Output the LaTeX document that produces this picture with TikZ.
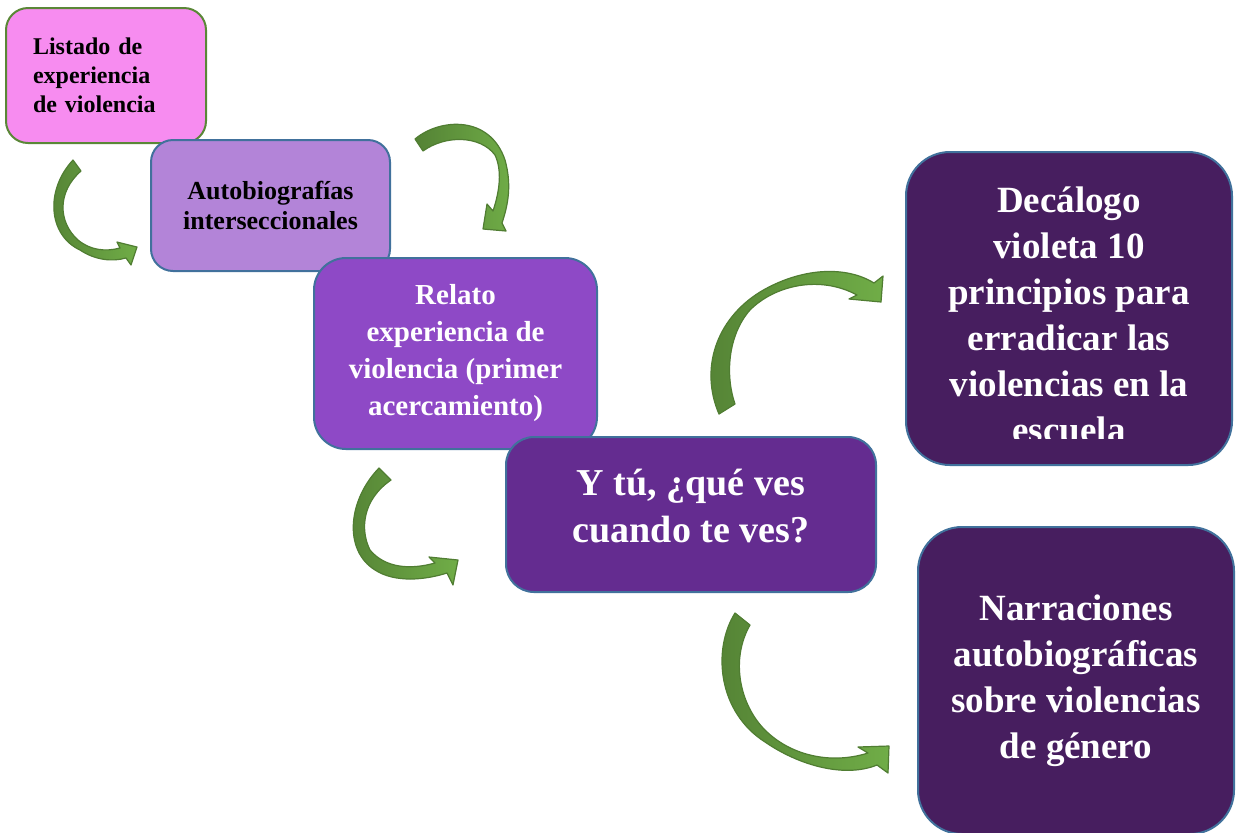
\documentclass[tikz,border=0pt]{standalone}
\usepackage{fontspec}
\setmainfont{Liberation Serif}
\usepackage{xcolor}
\definecolor{pinkfill}{RGB}{247,140,240}
\definecolor{lilacfill}{RGB}{179,132,216}
\definecolor{violetfill}{RGB}{142,73,198}
\definecolor{purplefill}{RGB}{100,44,144}
\definecolor{plumfill}{RGB}{71,30,95}
\definecolor{boxline}{RGB}{65,113,156}
\definecolor{greenline}{RGB}{90,135,55}
\definecolor{arrowline}{RGB}{80,125,50}
\definecolor{arrowdark}{RGB}{84,130,53}
\definecolor{arrowlight}{RGB}{112,173,71}
\usepackage{tikz}
\usetikzlibrary{calc,positioning}

\begin{document}
\begin{tikzpicture}[x=0.5pt,y=-0.5pt,
        stagebox/.style={rectangle, rounded corners=#1, draw=boxline, line width=1pt,
            align=center, inner sep=0pt, text=white},
        bentarrow/.style={draw=arrowline, line width=0.6pt, line join=round,
            left color=arrowdark, right color=arrowlight}]
    % Page
    \useasboundingbox (0,0) rectangle (1236,832);
    % Stages
    \node[stagebox=11pt, draw=greenline, fill=pinkfill, text=black, align=left,
        minimum width=100pt, minimum height=67.5pt, text width=73pt, inner xsep=13.5pt,
        font=\bfseries\fontsize{12}{14.5}\selectfont]
        (listado) at (106,75.5) {Listado de\\experiencia\\de violencia};
    \node[stagebox=11pt, fill=lilacfill, text=black,
        minimum width=119.5pt, minimum height=65.5pt,
        font=\bfseries\fontsize{13}{15}\selectfont]
        (autobio) at (270.5,205.5) {Autobiografías\\interseccionales};
    \node[stagebox=16pt, fill=violetfill,
        minimum width=141.5pt, minimum height=95.5pt,
        font=\bfseries\fontsize{14.5}{18.5}\selectfont]
        (relato) at (455.5,353.5) {Relato\\experiencia de\\violencia (primer\\acercamiento)};
    \node[stagebox=14pt, fill=purplefill,
        minimum width=185pt, minimum height=77.5pt, text depth=9pt,
        font=\bfseries\fontsize{19}{23.5}\selectfont]
        (yotu) at (691,514.5) {Y tú, ¿qué ves\\cuando te ves?};
    % Outcomes
    \node[stagebox=22pt, fill=plumfill,
        minimum width=163pt, minimum height=156.5pt] (decalogo) at (1069,308.5) {};
    \begin{scope}
        \clip (900,150) rectangle (1240,438);
        \node[anchor=base, text=white, align=center, inner sep=0pt,
            font=\bfseries\fontsize{18.5}{23}\selectfont]
            (decalogotxt) at (1069,442) {Decálogo\\violeta 10\\principios para\\erradicar las\\violencias en la\\escuela};
    \end{scope}
    \node[stagebox=22pt, fill=plumfill,
        minimum width=158pt, minimum height=153.5pt,
        font=\bfseries\fontsize{18.5}{23}\selectfont]
        (narraciones) at (1076,680.5) {Narraciones\\autobiográficas\\sobre violencias\\de género};
    % Curved arrows
    \draw[bentarrow] (73,160) .. controls (45,190) and (48,235) .. (80,250)
        .. controls (95,260) and (112,262) .. (126,258) -- (131,265) -- (137,247)
        -- (117,242) -- (120,248) .. controls (105,252) and (90,250) .. (78,240)
        .. controls (58,222) and (57,192) .. (81,171) -- cycle;
    \draw[bentarrow] (415,139) .. controls (440,118) and (490,115) .. (505,160)
        .. controls (512,185) and (508,205) .. (502,223) -- (506,231) -- (483,229)
        -- (487,204) -- (493,211) .. controls (500,190) and (502,170) .. (495,155)
        .. controls (480,135) and (445,135) .. (423,151) -- cycle;
    \draw[bentarrow] (379,468) .. controls (348,500) and (343,550) .. (375,570)
        .. controls (395,583) and (425,580) .. (447,573) -- (453,585) -- (458,560)
        -- (429,557) -- (435,563) .. controls (410,570) and (385,568) .. (370,550)
        .. controls (360,530) and (362,500) .. (391,480) -- cycle;
    \draw[bentarrow] (719,414) .. controls (700,370) and (715,320) .. (760,292)
        .. controls (800,268) and (845,265) .. (874,283) -- (883,276) -- (881,302)
        -- (849,299) -- (857,295) .. controls (820,275) and (775,285) .. (750,310)
        .. controls (728,335) and (725,375) .. (735,404) -- cycle;
    \draw[bentarrow] (735,613) .. controls (712,650) and (718,712) .. (765,742)
        .. controls (800,766) and (845,778) .. (877,765) -- (888,773) -- (889,746)
        -- (858,747) -- (868,753) .. controls (830,765) and (790,755) .. (765,730)
        .. controls (740,705) and (730,660) .. (750,625) -- cycle;
\end{tikzpicture}
\end{document}
